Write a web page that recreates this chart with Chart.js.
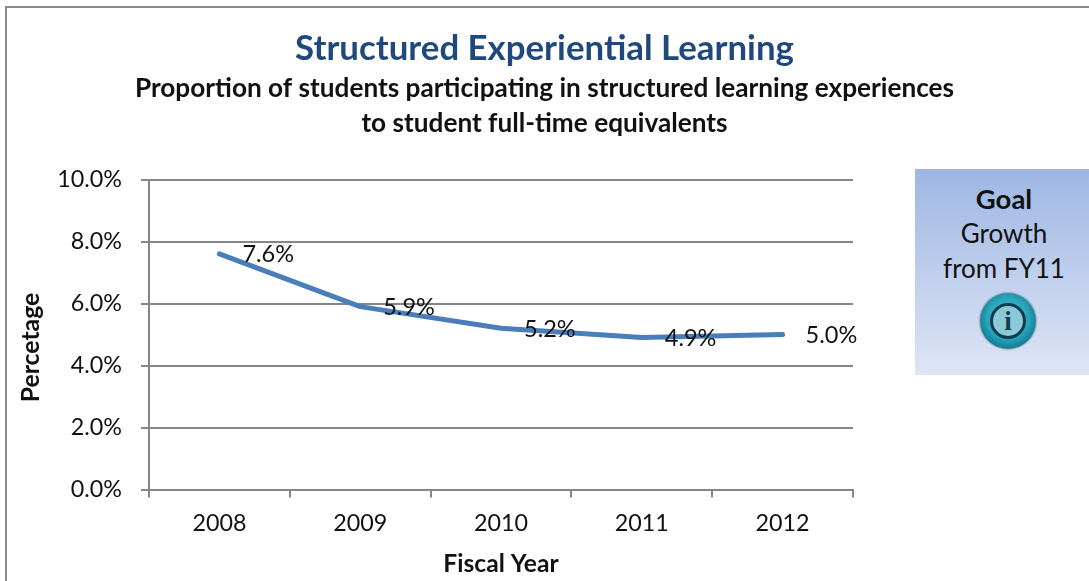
<!DOCTYPE html>
<html><head><meta charset="utf-8">
<script src="https://cdn.jsdelivr.net/npm/chart.js@4/dist/chart.umd.min.js"></script>
<style>
html,body{margin:0;padding:0;background:#fff;overflow:hidden}
#wrap{position:relative;width:1089px;height:581px}
#frame{position:absolute;left:5px;top:6px;width:1084px;height:575px;border-left:2px solid #8a8a8a;border-top:2px solid #8a8a8a;box-sizing:border-box}
canvas{position:absolute;left:0;top:0}
#goal{position:absolute;left:915px;top:169px;width:174px;height:206px;background:linear-gradient(#9db6e3,#dfe6f5);font:26px Lato,sans-serif;color:#111;text-align:center;line-height:35px;box-sizing:border-box;padding:12px 0 0 4px}
#goal b{display:block;font-size:27.5px}
#icon{position:absolute;left:65px;top:124px;width:56px;height:56px;border-radius:50%;background:radial-gradient(circle at 50% 45%,#5cc3d2 0,#2aa3b8 50%,#0d7f95 72%,#07384a 100%);box-shadow:0 0 2px #333}
#icon i{position:absolute;left:10px;top:10px;width:30px;height:30px;border:3px solid #0d3d50;border-radius:50%;background:#8cc9d6;font:bold 27px/30px "Liberation Serif",serif;color:#0d3d50;text-align:center}
</style></head><body>
<div id="wrap">
<div id="frame"></div>
<canvas id="c" width="1089" height="581"></canvas>
<div id="goal"><b>Goal</b>Growth<br>from FY11<div id="icon"><i>i</i></div></div>
</div>
<script>
const categories = ['2008','2009','2010','2011','2012'];
const values = [7.6,5.9,5.2,4.9,5.0];
const titleText = 'Structured Experiential Learning';
const subtitleLines = ['Proportion of students participating in structured learning experiences','to student full-time equivalents'];
const yAxisTitle = 'Percetage';
const FONT = 'Lato, sans-serif';
const GRID = '#868686';

const dataLabels = {
  id:'dataLabels',
  afterDatasetsDraw(chart){
    const ctx = chart.ctx, meta = chart.getDatasetMeta(0);
    ctx.save();
    ctx.font = '23.5px '+FONT; ctx.fillStyle='#111';
    ctx.textAlign='left'; ctx.textBaseline='middle';
    meta.data.forEach((p,i)=>ctx.fillText(values[i].toFixed(1)+'%',p.x+23,p.y+1));
    ctx.restore();
  }
};
const yTitle = {
  id:'yTitle',
  afterDraw(chart){
    const ctx = chart.ctx, a = chart.chartArea;
    ctx.save();
    ctx.translate(a.left-118, a.bottom-142);
    ctx.rotate(-Math.PI/2);
    ctx.font = 'bold 24.8px '+FONT; ctx.fillStyle='#111';
    ctx.textAlign='center'; ctx.textBaseline='middle';
    ctx.fillText(yAxisTitle,0,0);
    ctx.restore();
  }
};
new Chart(document.getElementById('c'),{
  type:'line',
  data:{labels:categories,datasets:[{data:values,yAxisID:'y',borderColor:'#4a7ebb',borderWidth:5,pointRadius:0,tension:0,fill:false,borderCapStyle:'round',borderJoinStyle:'round'}]},
  plugins:[dataLabels,yTitle],
  options:{
    responsive:false,animation:false,
    layout:{padding:0},
    plugins:{
      legend:{display:false},tooltip:{enabled:false},
      title:{display:true,text:titleText,color:'#1f497d',font:{family:FONT,size:34.8,weight:'bold'},padding:{top:28,bottom:1}},
      subtitle:{display:true,text:subtitleLines,color:'#111',font:{family:FONT,size:26.2,weight:'bold',lineHeight:1.35},padding:{top:0,bottom:38}}
    },
    scales:{
      x:{
        offset:true,
        grid:{offset:true,drawOnChartArea:false,color:GRID,lineWidth:2,tickLength:8,tickColor:GRID},
        border:{color:GRID,width:2},
        ticks:{color:'#111',font:{family:FONT,size:23.3},padding:12,maxRotation:0},
        title:{display:true,text:'Fiscal Year',color:'#111',font:{family:FONT,size:24.6,weight:'bold'},padding:{top:0,bottom:2}}
      },
      y:{
        min:0,max:10,
        afterFit(s){s.width=149;},
        grid:{color:GRID,lineWidth:2,tickLength:8,tickColor:GRID},
        border:{color:GRID,width:2},
        ticks:{stepSize:2,color:'#111',font:{family:FONT,size:23.3},padding:19,callback:v=>v.toFixed(1)+'%'}
      },
      spacer:{
        position:'right',
        afterFit(s){s.width=236;},
        grid:{display:false},
        border:{display:false},
        ticks:{display:false}
      }
    }
  }
});
</script>
</body></html>
